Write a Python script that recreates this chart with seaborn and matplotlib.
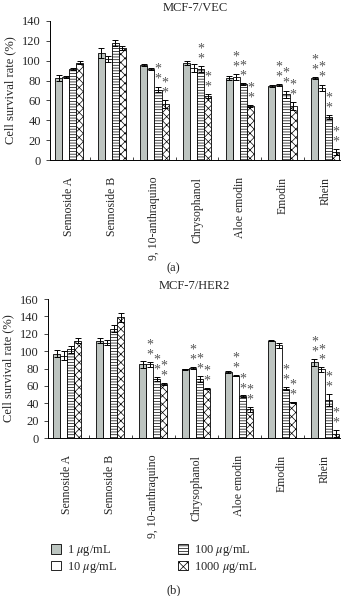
import pandas as pd
import matplotlib
matplotlib.use("Agg")
import matplotlib.pyplot as plt
from matplotlib.patches import Patch
import seaborn as sns

compounds = ["Sennoside A", "Sennoside B", "9, 10-anthraquino", "Chrysophanol",
             "Aloe emodin", "Emodin", "Rhein"]
concs = ["1 $\\mu$g/mL", "10 $\\mu$g/mL", "100 $\\mu$g/mL", "1000 $\\mu$g/mL"]

# MCF-7/VEC values (one list per concentration)
vec_1 = [83, 108, 96, 98, 83, 75, 83]
vec_10 = [84, 102, 92, 93, 84, 76, 73]
vec_100 = [92, 118, 71, 92, 77, 66, 43]
vec_1000 = [98, 113, 56, 64, 54, 54, 8]
vec_err = [[3, 5, 1, 2, 2, 1, 1],
           [1, 3, 1, 4, 3, 1, 3],
           [1, 3, 3, 3, 1, 4, 2],
           [1.5, 2, 4, 2, 1, 4, 3]]
vec_stars = [[0, 0, 0, 0, 0, 0, 2],
             [0, 0, 0, 0, 2, 2, 2],
             [0, 0, 2, 2, 2, 2, 2],
             [0, 0, 2, 2, 2, 2, 2]]

# MCF-7/HER2 values
her_1 = [97, 112, 85, 79, 76, 112, 87]
her_10 = [95, 110, 85, 81, 72, 107, 79]
her_100 = [102, 126, 68, 68, 48, 57, 44]
her_1000 = [112, 139, 62, 57, 33, 41, 5]
her_err = [[4, 3, 4, 1, 1, 0.5, 4],
           [5, 3, 3, 1, 1, 3, 3],
           [4, 4, 2, 4, 1, 2, 7],
           [3, 5, 1, 1, 3, 1, 4]]
her_stars = [[0, 0, 0, 0, 0, 0, 2],
             [0, 0, 2, 2, 2, 0, 2],
             [0, 0, 2, 2, 2, 2, 2],
             [0, 0, 2, 2, 2, 2, 2]]

colors = ["#bcc5c0", "white", "white", "white"]
hatches = [None, None, "------", "xxxx"]


def draw_panel(ax, series, errs, stars, title, ymax):
    rows = []
    for c, vals in zip(concs, series):
        for comp, v in zip(compounds, vals):
            rows.append({"compound": comp, "conc": c, "value": v})
    df = pd.DataFrame(rows)
    sns.barplot(data=df, x="compound", y="value", hue="conc", errorbar=None,
                width=0.66, palette=dict(zip(concs, colors)), edgecolor="black",
                linewidth=0.6, legend=False, ax=ax)
    bar_conts = list(ax.containers)
    for i, cont in enumerate(bar_conts):
        for j, bar in enumerate(cont):
            if hatches[i]:
                bar.set_hatch(hatches[i])
            x = bar.get_x() + bar.get_width() / 2
            top = series[i][j]
            ax.errorbar(x, top, yerr=errs[i][j], color="black", lw=0.7,
                        capsize=2, capthick=0.7)
            if stars[i][j]:
                ax.text(x, top + errs[i][j] + 0.5, "\n".join(["*"] * stars[i][j]),
                        ha="center", va="bottom", fontsize=10, color="#555555",
                        linespacing=0.7)
    ax.set_ylim(0, ymax)
    ax.set_yticks(range(0, ymax + 1, 20))
    ax.set_xlim(-0.45, 6.35)
    ax.set_xticks(range(len(compounds)))
    ax.set_xticklabels(compounds, rotation=90, fontsize=8.5)
    ax.set_xticks([k + 0.5 for k in range(len(compounds) - 1)], minor=True)
    ax.tick_params(axis="x", which="major", length=0, pad=12)
    ax.tick_params(axis="x", which="minor", length=2, direction="in")
    ax.tick_params(axis="y", labelsize=9, length=3, width=0.6)
    ax.set_xlabel("")
    ax.set_ylabel("Cell survival rate (%)", fontsize=9)
    ax.set_title(title, fontsize=9, pad=7)
    for s in ["top", "right"]:
        ax.spines[s].set_visible(False)
    for s in ["left", "bottom"]:
        ax.spines[s].set_linewidth(0.7)
        ax.spines[s].set_color("black")


sns.set_style("ticks")
plt.rcParams["font.family"] = ["Liberation Serif", "DejaVu Serif"]
plt.rcParams["mathtext.fontset"] = "stix"
plt.rcParams["hatch.linewidth"] = 0.5

fig = plt.figure(figsize=(3.47, 5.96), dpi=100)
ax1 = fig.add_axes([0.144, 0.7315, 0.836, 0.2333])
ax2 = fig.add_axes([0.138, 0.265, 0.842, 0.2332])

draw_panel(ax1, [vec_1, vec_10, vec_100, vec_1000], vec_err, vec_stars, "MCF-7/VEC", 140)
draw_panel(ax2, [her_1, her_10, her_100, her_1000], her_err, her_stars, "MCF-7/HER2", 160)

fig.text(0.5, 1 - 268 / 596, "(a)", ha="center", va="center", fontsize=9)
fig.text(0.5, 1 - 590 / 596, "(b)", ha="center", va="center", fontsize=9)

handles = [Patch(facecolor=colors[i], edgecolor="black", hatch=hatches[i], linewidth=0.6)
           for i in range(4)]
fig.legend(handles, concs, ncol=2, frameon=False, fontsize=9,
           loc="center left", bbox_to_anchor=(0.115, 1 - 559 / 596),
           handlelength=0.8, handleheight=0.8, handletextpad=0.5,
           columnspacing=4.8, labelspacing=0.12)

fig.savefig("out.png", dpi=100)
